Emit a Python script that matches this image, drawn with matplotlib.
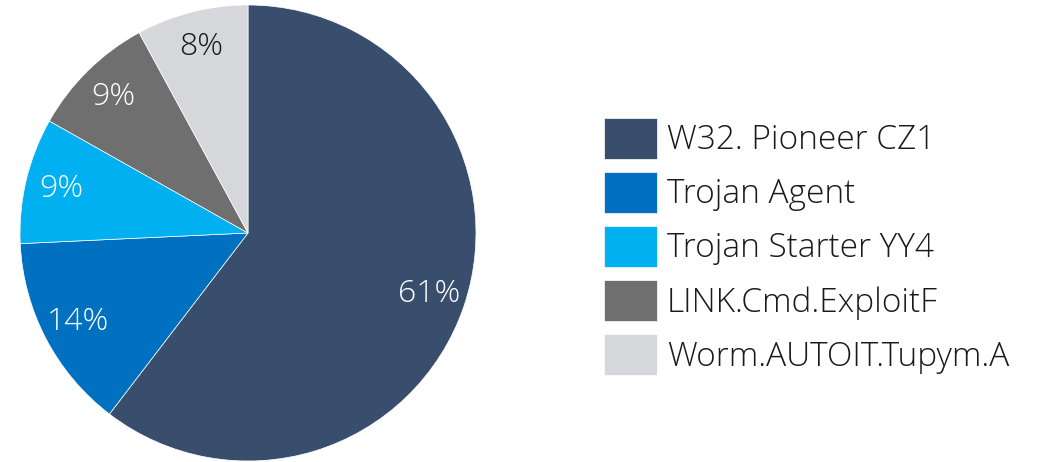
import matplotlib
matplotlib.use('Agg')
from matplotlib import pyplot as plt

# data
names = ['W32. Pioneer CZ1', 'Trojan Agent', 'Trojan Starter YY4',
         'LINK.Cmd.ExploitF', 'Worm.AUTOIT.Tupym.A']
shares = [61, 14, 9, 9, 8]
colors = ['#394D6D', '#0070C0', '#00B0F0', '#6F6F6F', '#D6D7DA']
label_colors = ['white', 'white', 'white', 'white', '#1a1a1a']

plt.rcParams['font.family'] = ['Open Sans', 'DejaVu Sans']

fig = plt.figure(figsize=(10.48, 4.62), dpi=100)
ax = fig.add_axes([20 / 1048, 1 / 462, 456 / 1048, 456 / 462])

wedges, texts, autotexts = ax.pie(
    shares, colors=colors, startangle=90, counterclock=False,
    autopct='%1.0f%%', pctdistance=0.84, radius=1,
    wedgeprops=dict(edgecolor='white', linewidth=0.5),
    textprops=dict(fontsize=23, fontweight='light'))
# show the values as given (they add up to 101)
for t, c, v in zip(autotexts, label_colors, shares):
    t.set_text('%d%%' % v)
    t.set_color(c)
ax.set_xlim(-1, 1)
ax.set_ylim(-1, 1)
ax.set_aspect('equal')
ax.axis('off')

leg = fig.legend(wedges, names, loc='upper left',
                 bbox_to_anchor=(587 / 1048, 1 - 101 / 462),
                 frameon=False, fontsize=24, borderpad=0,
                 handlelength=1.59, handleheight=1.52,
                 labelspacing=0.39, handletextpad=0.31)
for t in leg.get_texts():
    t.set_color('#1a1a1a')
    t.set_fontweight('light')

fig.savefig('out.png', dpi=100)
